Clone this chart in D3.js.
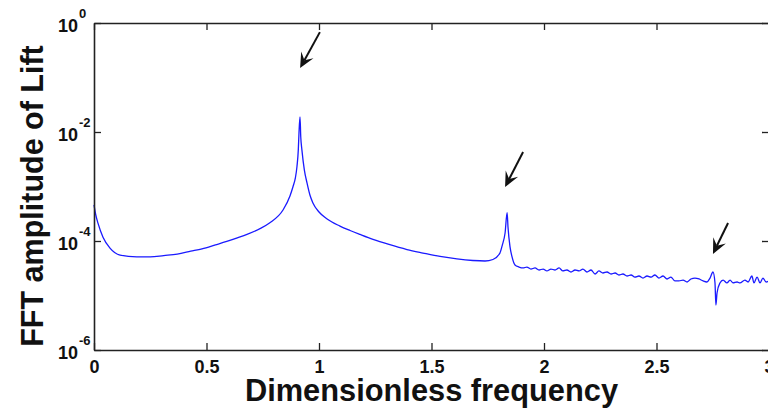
<!DOCTYPE html>
<html>
<head>
<meta charset="utf-8">
<script src="https://cdn.jsdelivr.net/npm/d3@7/dist/d3.min.js"></script>
<style>
  html, body { margin: 0; padding: 0; background: #fff; }
  svg { display: block; }
  text { font-family: "Liberation Sans", Arial, sans-serif; font-weight: bold; fill: #111; }
</style>
</head>
<body>
<svg id="chart" width="768" height="411"></svg>
<script>
// ---- data ----
const freq = [
  0, 0.008, 0.018, 0.04, 0.071, 0.116, 0.19, 0.25, 0.31, 0.37, 0.43, 0.48, 0.54, 0.59, 0.64,
  0.68, 0.74, 0.78, 0.84,
  0.871, 0.884, 0.895, 0.902, 0.908, 0.911, 0.9156, 0.919, 0.924, 0.935, 0.947, 0.96, 0.973,
  1.0, 1.036, 1.093, 1.138, 1.182, 1.24, 1.311, 1.391, 1.462, 1.538, 1.613, 1.684, 1.738,
  1.773, 1.804, 1.815, 1.827, 1.836, 1.840, 1.849, 1.858,
  1.871, 1.889, 1.907, 1.924, 1.942, 1.960, 1.978, 1.996, 2.013, 2.031, 2.049, 2.067, 2.084,
  2.102, 2.120, 2.138, 2.156, 2.173, 2.191, 2.209, 2.227, 2.244, 2.262, 2.280, 2.298, 2.316,
  2.333, 2.351, 2.369, 2.387, 2.404, 2.422, 2.440, 2.458, 2.476, 2.493, 2.511, 2.529, 2.547,
  2.564, 2.582, 2.600, 2.618, 2.636, 2.653, 2.671, 2.689, 2.707, 2.724, 2.738, 2.751, 2.760,
  2.764, 2.769, 2.782, 2.796, 2.813, 2.827, 2.840, 2.858, 2.871, 2.893, 2.907, 2.924, 2.933,
  2.947, 2.960, 2.973, 2.987, 3.0
];
const amp = [
  4.6e-4, 3.0e-4, 2.1e-4, 1.17e-4, 7.4e-5, 5.5e-5, 5.1e-5, 5.1e-5, 5.4e-5, 5.75e-5, 6.5e-5, 7.2e-5, 8.5e-5, 9.8e-5, 1.15e-4,
  1.32e-4, 1.7e-4, 2.14e-4, 3.7e-4,
  6.7e-4, 9.8e-4, 1.44e-3, 2.3e-3, 4.7e-3, 9.5e-3, 1.9e-2, 8.0e-3, 4.7e-3, 2.0e-3, 1.15e-3, 6.9e-4, 5.0e-4,
  3.4e-4, 2.53e-4, 1.88e-4, 1.56e-4, 1.32e-4, 1.07e-4, 8.63e-5, 6.98e-5, 6.02e-5, 5.2e-5, 4.68e-5, 4.39e-5, 4.3e-5,
  4.58e-5, 6.0e-5, 8.5e-5, 1.4e-4, 3.3e-4, 1.8e-4, 7.8e-5, 5.1e-5,
  3.63e-5, 3.33e-5, 3.2e-5, 3.33e-5, 3.06e-5, 3.2e-5, 2.94e-5, 3.06e-5, 2.82e-5, 3.06e-5, 2.94e-5, 3.2e-5, 2.82e-5,
  2.94e-5, 2.70e-5, 2.94e-5, 2.82e-5, 3.06e-5, 2.70e-5, 2.94e-5, 2.48e-5, 2.82e-5, 2.59e-5, 2.70e-5, 2.48e-5, 2.59e-5,
  2.38e-5, 2.48e-5, 2.28e-5, 2.38e-5, 2.18e-5, 2.28e-5, 2.09e-5, 2.28e-5, 2.18e-5, 2.38e-5, 2.09e-5, 2.28e-5, 2.01e-5,
  2.18e-5, 1.85e-5, 1.85e-5, 1.92e-5, 1.77e-5, 2.01e-5, 2.09e-5, 2.01e-5, 1.85e-5, 1.77e-5, 2.09e-5, 2.70e-5, 1.70e-5,
  6.7e-6, 1.11e-5, 1.70e-5, 1.92e-5, 1.70e-5, 1.92e-5, 1.70e-5, 1.77e-5, 1.70e-5, 1.92e-5, 1.77e-5, 2.28e-5, 1.70e-5,
  2.18e-5, 1.70e-5, 2.09e-5, 1.77e-5, 1.85e-5
];
const xTicks = [0, 0.5, 1, 1.5, 2, 2.5, 3];
const xTickLabels = ["0", "0.5", "1", "1.5", "2", "2.5", "3"];
const yTicks = [1, 1e-2, 1e-4, 1e-6];
const yTickExponents = ["0", "-2", "-4", "-6"];
// arrows: tail (f, amplitude) -> head (f, amplitude)
const arrowTailF = [1.004, 1.907, 2.818];
const arrowTailA = [0.68, 4.3e-3, 2.14e-4];
const arrowHeadF = [0.916, 1.827, 2.751];
const arrowHeadA = [0.149, 9.8e-4, 5.8e-5];
const xTitle = "Dimensionless frequency";
const yTitle = "FFT amplitude of Lift";

// ---- layout ----
const L = 94, R = 769, T = 23, B = 350;
const svg = d3.select("#chart");
const x = d3.scaleLinear().domain([0, 3]).range([L, R]);
const y = d3.scaleLog().domain([1e-6, 1]).range([B, T]);

// data line
const pts = freq.map((f, i) => [f, amp[i]]);
svg.append("path")
  .datum(pts)
  .attr("fill", "none")
  .attr("stroke", "#1a1aff")
  .attr("stroke-width", 1.3)
  .attr("stroke-linejoin", "round")
  .attr("d", d3.line().x(d => x(d[0])).y(d => y(d[1])).curve(d3.curveMonotoneX));

// axes (inward ticks on all four sides)
const axisColor = "#222";
const gB = svg.append("g").attr("transform", `translate(0,${B})`)
  .call(d3.axisBottom(x).tickValues(xTicks).tickSizeInner(-7).tickSizeOuter(0)
    .tickPadding(10).tickFormat((d, i) => xTickLabels[i]));
gB.selectAll("text").style("font-size", "18px").attr("fill", "#111");
const gT = svg.append("g").attr("transform", `translate(0,${T})`)
  .call(d3.axisTop(x).tickValues(xTicks).tickSizeInner(-7).tickSizeOuter(0).tickFormat(""));
const gL = svg.append("g").attr("transform", `translate(${L},0)`)
  .call(d3.axisLeft(y).tickValues(yTicks).tickSizeInner(-7).tickSizeOuter(0).tickFormat(""));
const gR = svg.append("g").attr("transform", `translate(${R},0)`)
  .call(d3.axisRight(y).tickValues(yTicks).tickSizeInner(-7).tickSizeOuter(0).tickFormat(""));
[gB, gT, gL, gR].forEach(g => {
  g.select(".domain").attr("stroke", axisColor).attr("stroke-width", 1.6);
  g.selectAll(".tick line").attr("stroke", axisColor).attr("stroke-width", 1.3);
});

// y tick labels with superscripts
const yl = svg.append("g");
yTicks.forEach((v, i) => {
  yl.append("text").attr("x", 78).attr("y", y(v) + 9)
    .attr("text-anchor", "end").style("font-size", "18px").text("10");
  yl.append("text").attr("x", 79).attr("y", y(v) - 5)
    .attr("text-anchor", "start").style("font-size", "13px").text(yTickExponents[i]);
});

// titles
svg.append("text").attr("x", (L + R) / 2).attr("y", 401)
  .attr("text-anchor", "middle").style("font-size", "30.8px").text(xTitle);
svg.append("text").attr("transform", "translate(43,196) rotate(-90)")
  .attr("text-anchor", "middle").style("font-size", "30.5px").text(yTitle);

// arrows
const ag = svg.append("g");
arrowHeadF.forEach((hf, i) => {
  const x1 = x(arrowTailF[i]), y1 = y(arrowTailA[i]);
  const x2 = x(hf), y2 = y(arrowHeadA[i]);
  const ang = Math.atan2(y2 - y1, x2 - x1);
  const len = 15, half = 7, notch = 9;
  const ux = Math.cos(ang), uy = Math.sin(ang);
  const px = -uy, py = ux;
  ag.append("line").attr("x1", x1).attr("y1", y1)
    .attr("x2", x2 - ux * notch).attr("y2", y2 - uy * notch)
    .attr("stroke", "#111").attr("stroke-width", 2);
  const p = [
    [x2, y2],
    [x2 - ux * len + px * half, y2 - uy * len + py * half],
    [x2 - ux * notch, y2 - uy * notch],
    [x2 - ux * len - px * half, y2 - uy * len - py * half]
  ];
  ag.append("path").attr("d", "M" + p.map(q => q.join(",")).join("L") + "Z").attr("fill", "#111");
});
</script>
</body>
</html>
